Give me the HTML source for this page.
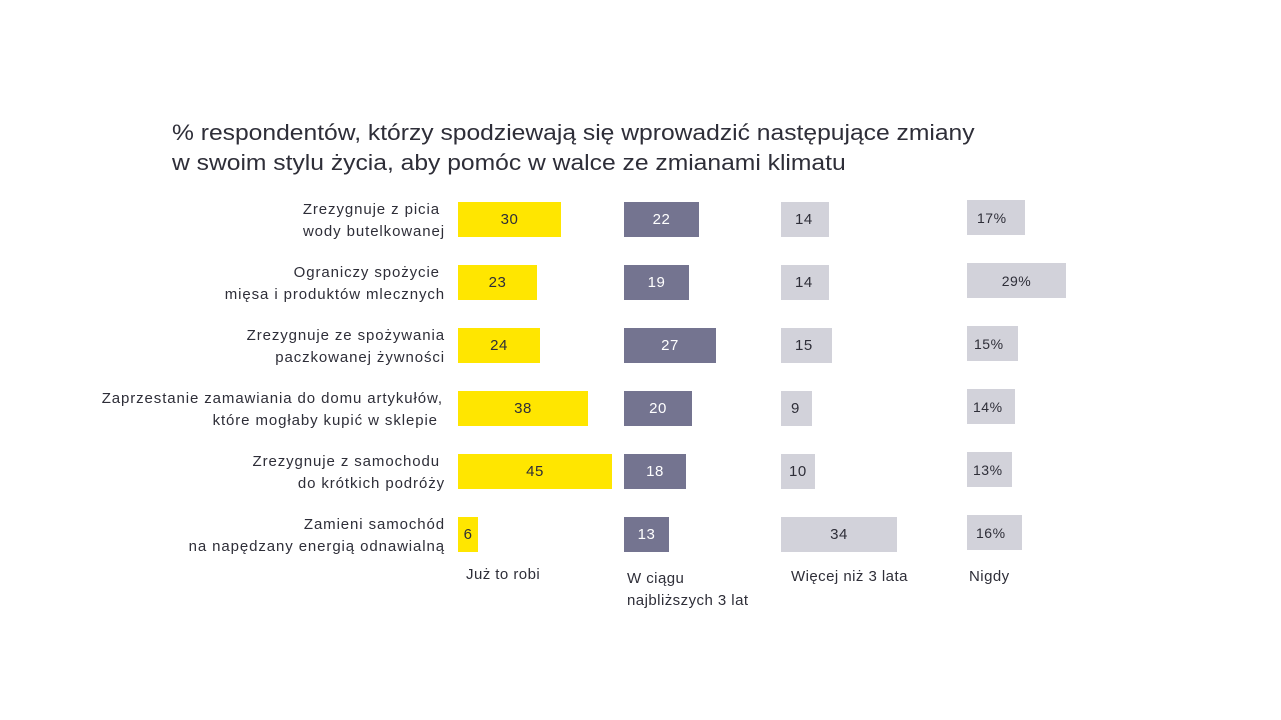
<!DOCTYPE html>
<html><head><meta charset="utf-8"><style>
body{margin:0;width:1281px;height:720px;background:#fff;position:relative;font-family:"Liberation Sans",sans-serif;color:#2e2e38;overflow:hidden}
.a{position:absolute}
.t{left:172px;font-size:22px;color:#2e2e38;transform:scaleX(1.12);transform-origin:0 0;white-space:nowrap}
.l{right:836px;text-align:right;font-size:15px;line-height:22px;letter-spacing:0.9px;white-space:nowrap}
.b{position:absolute;height:35px;font-size:15px;line-height:36px;letter-spacing:0.5px}
.y{background:#FFE600;text-align:center;left:458px}
.d{background:#747490;color:#fff;left:624px;text-align:center}
.g{background:#D2D2DA;left:781px;padding-left:14px;box-sizing:border-box}
.n{background:#D2D2DA;left:967px;padding-left:10px;box-sizing:border-box;font-size:14px}
.c{font-size:15px;letter-spacing:0.45px}
</style></head><body>
<div class="a t" style="top:120px">% respondentów, którzy spodziewają się  wprowadzić następujące zmiany</div>
<div class="a t" style="top:150px">w swoim stylu życia, aby pomóc w walce ze zmianami klimatu</div>

<div class="a l" style="top:199px">Zrezygnuje z picia&nbsp;<br>wody butelkowanej</div>
<div class="a l" style="top:262px">Ograniczy spożycie&nbsp;<br>mięsa i produktów mlecznych</div>
<div class="a l" style="top:325px">Zrezygnuje ze spożywania<br>paczkowanej żywności</div>
<div class="a l" style="top:388px;right:838px">Zaprzestanie zamawiania do domu artykułów,<br>które mogłaby kupić w sklepie&nbsp;</div>
<div class="a l" style="top:451px">Zrezygnuje z samochodu&nbsp;<br>do krótkich podróży</div>
<div class="a l" style="top:514px">Zamieni samochód<br>na napędzany energią odnawialną</div>

<div class="b y" style="top:202px;width:103px">30</div>
<div class="b y" style="top:265px;width:79px">23</div>
<div class="b y" style="top:328px;width:82px">24</div>
<div class="b y" style="top:391px;width:130px">38</div>
<div class="b y" style="top:454px;width:154px">45</div>
<div class="b y" style="top:517px;width:20px">6</div>

<div class="b d" style="top:202px;width:75px">22</div>
<div class="b d" style="top:265px;width:65px">19</div>
<div class="b d" style="top:328px;width:92px">27</div>
<div class="b d" style="top:391px;width:68px">20</div>
<div class="b d" style="top:454px;width:62px">18</div>
<div class="b d" style="top:517px;width:45px">13</div>

<div class="b g" style="top:202px;width:48px">14</div>
<div class="b g" style="top:265px;width:48px">14</div>
<div class="b g" style="top:328px;width:51px">15</div>
<div class="b g" style="top:391px;width:31px;padding-left:10px">9</div>
<div class="b g" style="top:454px;width:34px;padding-left:8px">10</div>
<div class="b g" style="top:517px;width:116px;text-align:center;padding-left:0">34</div>

<div class="b n" style="top:200px;width:58px">17%</div>
<div class="b n" style="top:263px;width:99px;text-align:center;padding-left:0">29%</div>
<div class="b n" style="top:326px;width:51px;padding-left:7px">15%</div>
<div class="b n" style="top:389px;width:48px;padding-left:6px">14%</div>
<div class="b n" style="top:452px;width:45px;padding-left:6px">13%</div>
<div class="b n" style="top:515px;width:55px;padding-left:9px">16%</div>

<div class="a c" style="left:466px;top:566px">Już to robi</div>
<div class="a c" style="left:627px;top:568px;line-height:22px">W ciągu<br>najbliższych 3 lat</div>
<div class="a c" style="left:791px;top:568px">Więcej niż 3 lata</div>
<div class="a c" style="left:969px;top:568px">Nigdy</div>
</body></html>
